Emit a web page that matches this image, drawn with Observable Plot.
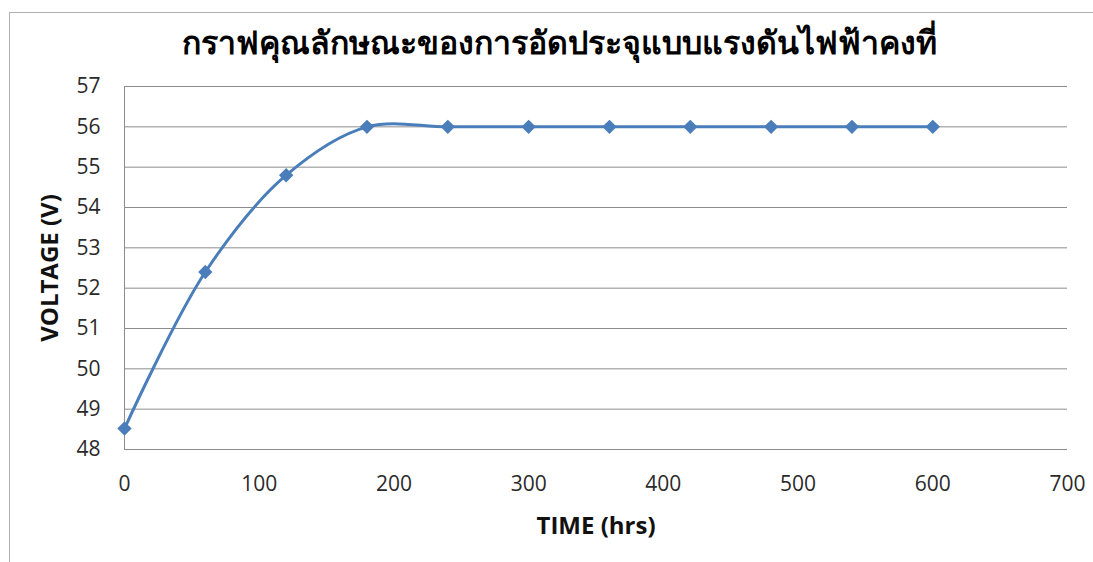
<!DOCTYPE html>
<html>
<head>
<meta charset="utf-8">
<script src="https://cdn.jsdelivr.net/npm/d3@7"></script>
<script src="https://cdn.jsdelivr.net/npm/@observablehq/plot@0.6"></script>
<style>
  html, body { margin: 0; padding: 0; background: #fff; }
  #wrap { position: relative; width: 1093px; height: 562px; overflow: hidden; }
  #frame { position: absolute; left: 9px; top: 12px; width: 1200px; height: 700px;
           border-left: 1px solid #b0b0b0; border-top: 1px solid #b0b0b0; }
  #chart { position: absolute; left: 0; top: 0; }
</style>
</head>
<body>
<div id="wrap"><div id="frame"></div><div id="chart"></div></div>
<script>
const title = "กราฟคุณลักษณะของการอัดประจุแบบแรงดันไฟฟ้าคงที่";
const xLabel = "TIME (hrs)";
const yLabel = "VOLTAGE (V)";
const timeHrs = [0, 60, 120, 180, 240, 300, 360, 420, 480, 540, 600];
const voltage = [48.52, 52.4, 54.8, 56, 56, 56, 56, 56, 56, 56, 56];
const xTicks = [0, 100, 200, 300, 400, 500, 600, 700];
const yTicks = [48, 49, 50, 51, 52, 53, 54, 55, 56, 57];

const data = timeHrs.map((t, i) => ({t, v: voltage[i]}));

const chart = Plot.plot({
  width: 1093,
  height: 562,
  marginLeft: 124,
  marginRight: 26,
  marginTop: 86,
  marginBottom: 113,
  style: {fontFamily: "'Open Sans', sans-serif", fontSize: "21px", color: "#2a2a2a", background: "transparent"},
  x: {domain: [0, 700], ticks: xTicks, tickSize: 0, tickPadding: 28, label: null},
  y: {domain: [48, 57], ticks: yTicks, tickSize: 0, tickPadding: 24, label: null},
  marks: [
    Plot.gridY(yTicks, {stroke: "#8c8c8c", strokeOpacity: 1, strokeWidth: 1}),
    Plot.ruleX([0], {stroke: "#8c8c8c", strokeWidth: 1}),
    Plot.axisX({ticks: xTicks, tickSize: 0, tickPadding: 27, label: null, fontSize: 21}),
    Plot.axisY({ticks: yTicks, tickSize: 0, tickPadding: 24, label: null, fontSize: 21}),
    Plot.line(data, {x: "t", y: "v", curve: "catmull-rom", stroke: "#4a7ebb", strokeWidth: 3}),
    Plot.dot(data, {x: "t", y: "v", symbol: "diamond2", r: 5.5, fill: "#4a7ebb", stroke: "#4a7ebb"}),
    Plot.text([title], {frameAnchor: "top", dx: -37, dy: -55, fontSize: 32, fontWeight: "bold", fill: "#000"}),
    Plot.text([xLabel], {frameAnchor: "bottom", dy: 84, fontSize: 24, fontWeight: "bold", fill: "#111"}),
    Plot.text([yLabel], {frameAnchor: "left", textAnchor: "middle", dx: -74, rotate: -90, fontSize: 24, fontWeight: "bold", fill: "#111"})
  ]
});
document.getElementById("chart").appendChild(chart);
</script>
</body>
</html>
